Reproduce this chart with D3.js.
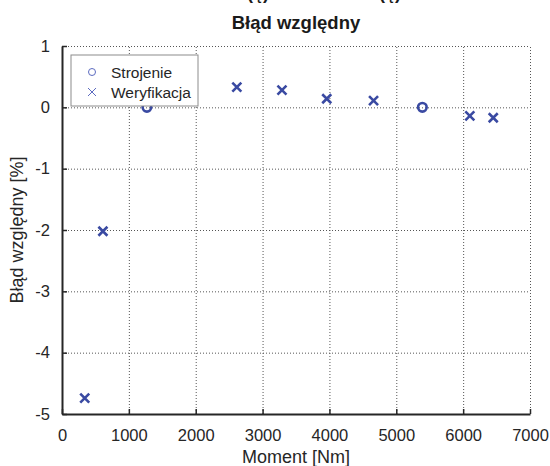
<!doctype html>
<html lang="pl">
<head>
<meta charset="UTF-8">
<title>Błąd względny</title>
<script src="https://cdn.jsdelivr.net/npm/d3@7"></script>
<style>
  body { margin: 0; background: #fff; }
  svg { font-family: "Liberation Sans", Arial, sans-serif; }
  .tick text { font-size: 16.5px; fill: #262626; }
  .grid line { stroke: #555; stroke-dasharray: 1,2; }
  .grid path { display: none; }
</style>
</head>
<body>
<script>
// data
var strojenieX = [1270, 5390];
var strojenieY = [0, 0];
var weryfikacjaX = [340, 612, 2615, 3290, 3960, 4660, 6100, 6450];
var weryfikacjaY = [-4.74, -2.02, 0.33, 0.28, 0.14, 0.11, -0.14, -0.17];
var xTicks = [0, 1000, 2000, 3000, 4000, 5000, 6000, 7000];
var yTicks = [1, 0, -1, -2, -3, -4, -5];
var seriesNames = ["Strojenie", "Weryfikacja"];

var width = 550, height = 466,
    pLeft = 62, pRight = 530, pTop = 46, pBottom = 414,
    blue = "#3a4aa2";

var svg = d3.select("body").append("svg")
  .attr("width", width)
  .attr("height", height);

var x = d3.scaleLinear().domain([0, 7000]).range([pLeft, pRight]);
var y = d3.scaleLinear().domain([-5, 1]).range([pBottom, pTop]);

// grid
svg.append("g").attr("class", "grid")
  .attr("transform", "translate(0," + pBottom + ")")
  .call(d3.axisBottom(x).tickValues(xTicks.slice(1)).tickSize(-(pBottom - pTop)).tickFormat(""));
svg.append("g").attr("class", "grid")
  .attr("transform", "translate(" + pLeft + ",0)")
  .call(d3.axisLeft(y).tickValues(yTicks.slice(0, -1)).tickSize(-(pRight - pLeft)).tickFormat(""));

// axes
var xAxis = svg.append("g")
  .attr("transform", "translate(0," + pBottom + ")")
  .call(d3.axisBottom(x).tickValues(xTicks).tickSizeInner(-5).tickSizeOuter(0).tickPadding(15)
    .tickFormat(d3.format("d")));
var yAxis = svg.append("g")
  .attr("transform", "translate(" + pLeft + ",0)")
  .call(d3.axisLeft(y).tickValues(yTicks).tickSizeInner(-5).tickSizeOuter(0).tickPadding(12)
    .tickFormat(function(d){ return String(d); }));
[xAxis, yAxis].forEach(function(a){
  a.select(".domain").attr("stroke", "#262626").attr("stroke-width", 2);
  a.selectAll(".tick line").attr("stroke", "#262626").attr("stroke-width", 1.5);
});

// markers
function cross(g, s, w, c) {
  g.append("path")
    .attr("d", "M" + (-s) + "," + (-s) + "L" + s + "," + s + "M" + (-s) + "," + s + "L" + s + "," + (-s))
    .attr("stroke", c).attr("stroke-width", w).attr("fill", "none");
}

svg.append("g").selectAll("circle")
  .data(strojenieX)
  .enter()
  .append("circle")
  .attr("cx", function(d){ return x(d); })
  .attr("cy", function(d, i){ return y(strojenieY[i]); })
  .attr("r", 4.3)
  .attr("fill", "none")
  .attr("stroke", blue)
  .attr("stroke-width", 2.6);

svg.append("g").selectAll("g")
  .data(weryfikacjaX)
  .enter()
  .append("g")
  .attr("transform", function(d, i){ return "translate(" + x(d) + "," + y(weryfikacjaY[i]) + ")"; })
  .each(function(){ cross(d3.select(this), 4.5, 2.6, blue); });

// legend
var lg = svg.append("g");
lg.append("rect")
  .attr("x", 71).attr("y", 55).attr("width", 127).attr("height", 51)
  .attr("fill", "#fff").attr("stroke", "#8c8c8c").attr("stroke-width", 1);
seriesNames.forEach(function(name, i){
  var cy = 72 + i * 20;
  if (i === 0) {
    lg.append("circle").attr("cx", 92).attr("cy", cy).attr("r", 3.5)
      .attr("fill", "none").attr("stroke", "#5c6bc0").attr("stroke-width", 1);
  } else {
    cross(lg.append("g").attr("transform", "translate(92," + cy + ")"), 4, 1, "#5c6bc0");
  }
  lg.append("text").attr("x", 111).attr("y", cy + 5.5)
    .attr("font-size", 15.5).attr("fill", "#262626").text(name);
});

// titles (first title line is cut off at the top edge)
[258, 390].forEach(function(cx){
  svg.append("text")
    .attr("x", cx).attr("y", -1)
    .attr("text-anchor", "middle").attr("font-size", 18).attr("font-weight", "bold")
    .attr("fill", "#1a1a1a")
    .text("(ę)");
});
svg.append("text")
  .attr("x", (pLeft + pRight) / 2).attr("y", 29)
  .attr("text-anchor", "middle").attr("font-size", 18.5).attr("font-weight", "bold")
  .attr("fill", "#1a1a1a")
  .text("Błąd względny");
svg.append("text")
  .attr("x", (pLeft + pRight) / 2).attr("y", 463)
  .attr("text-anchor", "middle").attr("font-size", 18).attr("fill", "#262626")
  .text("Moment [Nm]");
svg.append("text")
  .attr("transform", "translate(23," + ((pTop + pBottom) / 2) + ") rotate(-90)")
  .attr("text-anchor", "middle").attr("font-size", 18).attr("fill", "#262626")
  .text("Błąd względny [%]");
</script>
</body>
</html>
